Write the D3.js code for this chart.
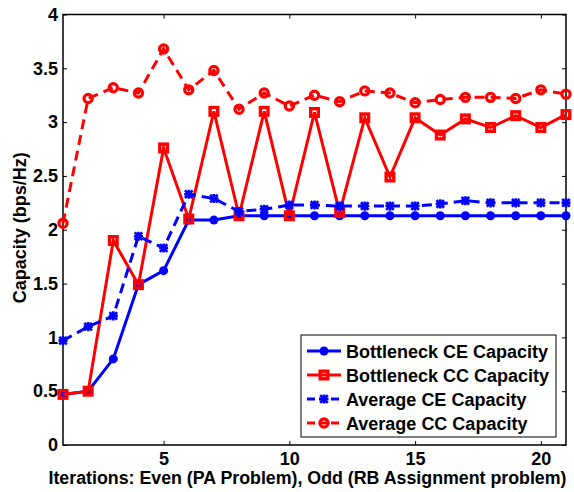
<!DOCTYPE html>
<html>
<head>
<meta charset="utf-8">
<script src="https://cdn.jsdelivr.net/npm/d3@7"></script>
<style>
  html, body { margin: 0; padding: 0; background: #fff; }
  svg { display: block; }
  text { font-family: "Liberation Sans", Arial, sans-serif; font-weight: bold; fill: #000; }
</style>
</head>
<body>
<svg id="chart" width="574" height="492"></svg>
<script>
// Iteration index (1..21)
const iterations = d3.range(1, 22);

// Capacity per iteration (bps/Hz)
const bottleneckCE = [0.47, 0.50, 0.80, 1.49, 1.62, 2.09, 2.09, 2.13, 2.13, 2.13, 2.13,
                      2.13, 2.13, 2.13, 2.13, 2.13, 2.13, 2.13, 2.13, 2.13, 2.13];
const bottleneckCC = [0.47, 0.50, 1.90, 1.49, 2.76, 2.10, 3.10, 2.13, 3.10, 2.13, 3.09,
                      2.16, 3.04, 2.49, 3.04, 2.88, 3.03, 2.95, 3.06, 2.95, 3.07];
const averageCE    = [0.97, 1.10, 1.20, 1.94, 1.83, 2.33, 2.29, 2.17, 2.19, 2.23, 2.23,
                      2.22, 2.22, 2.22, 2.22, 2.24, 2.27, 2.25, 2.25, 2.25, 2.25];
const averageCC    = [2.06, 3.22, 3.32, 3.27, 3.68, 3.30, 3.48, 3.12, 3.27, 3.15, 3.25,
                      3.19, 3.29, 3.27, 3.18, 3.21, 3.23, 3.23, 3.22, 3.30, 3.26];

const xTicks = [5, 10, 15, 20];
const yTicks = [0, 0.5, 1, 1.5, 2, 2.5, 3, 3.5, 4];

const seriesNames = ["Bottleneck CE Capacity", "Bottleneck CC Capacity",
                     "Average CE Capacity", "Average CC Capacity"];

const series = [
  { name: seriesNames[0], values: bottleneckCE, color: "#0000ff", dash: null,    marker: "dot" },
  { name: seriesNames[1], values: bottleneckCC, color: "#ff0000", dash: null,    marker: "square" },
  { name: seriesNames[2], values: averageCE,    color: "#0000ff", dash: "10,6",  marker: "star" },
  { name: seriesNames[3], values: averageCC,    color: "#ff0000", dash: "10,6",  marker: "circle" }
];

const FONT = 18;
const svg = d3.select("#chart");
const margin = { left: 63, right: 8, top: 14.5, bottom: 47 };
const W = 574, H = 492;
const x = d3.scaleLinear().domain([1, 21]).range([margin.left, W - margin.right]);
const y = d3.scaleLinear().domain([0, 4]).range([H - margin.bottom, margin.top]);

const x0 = x.range()[0], x1 = x.range()[1];
const y0 = y.range()[0], y1 = y.range()[1];

// Axes box with inward ticks on all four sides
const tickLen = 4;
const gx = svg.append("g").attr("transform", `translate(0,${y0})`)
  .call(d3.axisBottom(x).tickValues(xTicks).tickSizeInner(-tickLen).tickSizeOuter(0).tickPadding(7).tickFormat(d3.format("d")));
const gxt = svg.append("g").attr("transform", `translate(0,${y1})`)
  .call(d3.axisTop(x).tickValues(xTicks).tickSizeInner(-tickLen).tickSizeOuter(0).tickFormat(""));
const gy = svg.append("g").attr("transform", `translate(${x0},0)`)
  .call(d3.axisLeft(y).tickValues(yTicks).tickSizeInner(-tickLen).tickSizeOuter(0).tickPadding(5).tickFormat(d3.format("")));
const gyr = svg.append("g").attr("transform", `translate(${x1},0)`)
  .call(d3.axisRight(y).tickValues(yTicks).tickSizeInner(-tickLen).tickSizeOuter(0).tickFormat(""));

[gx, gxt, gy, gyr].forEach(g => {
  g.select(".domain").remove();
  g.attr("font-family", null).attr("font-size", null);
  g.selectAll(".tick line").attr("stroke", "#000").attr("stroke-width", 1);
  g.selectAll("text").attr("font-size", FONT);
});

svg.append("rect")
  .attr("x", x0).attr("y", y1)
  .attr("width", x1 - x0).attr("height", y0 - y1)
  .attr("fill", "none").attr("stroke", "#000").attr("stroke-width", 1.5);

// Axis titles
svg.append("text")
  .attr("x", 307.5).attr("y", 483.5)
  .attr("text-anchor", "middle").attr("font-size", FONT)
  .attr("textLength", 518).attr("lengthAdjust", "spacingAndGlyphs")
  .text("Iterations: Even (PA Problem), Odd (RB Assignment problem)");

svg.append("text")
  .attr("transform", `translate(25.5,${(y0 + y1) / 2 - 2}) rotate(-90)`)
  .attr("text-anchor", "middle").attr("font-size", FONT)
  .text("Capacity (bps/Hz)");

// Marker drawing helper
function drawMarker(g, marker, color, cx, cy) {
  if (marker === "dot") {
    g.append("circle").attr("cx", cx).attr("cy", cy).attr("r", 4.5).attr("fill", color);
  } else if (marker === "square") {
    g.append("rect").attr("x", cx - 3.8).attr("y", cy - 3.8).attr("width", 7.6).attr("height", 7.6)
      .attr("fill", "none").attr("stroke", color).attr("stroke-width", 3.4);
  } else if (marker === "circle") {
    g.append("circle").attr("cx", cx).attr("cy", cy).attr("r", 4.1)
      .attr("fill", "none").attr("stroke", color).attr("stroke-width", 3.2);
  } else if (marker === "star") {
    const s = 3.8;
    const p = `M${cx - s},${cy - s}L${cx + s},${cy + s}M${cx - s},${cy + s}L${cx + s},${cy - s}` +
              `M${cx - s * 1.2},${cy}L${cx + s * 1.2},${cy}M${cx},${cy - s * 1.2}L${cx},${cy + s * 1.2}`;
    g.append("path").attr("d", p).attr("stroke", color).attr("stroke-width", 2.6).attr("fill", "none");
  }
}

const line = d3.line().x((d, i) => x(iterations[i])).y(d => y(d));
const plot = svg.append("g");

series.forEach(s => {
  const g = plot.append("g");
  g.append("path")
    .attr("d", line(s.values))
    .attr("fill", "none").attr("stroke", s.color).attr("stroke-width", 3)
    .attr("stroke-dasharray", s.dash).attr("stroke-linejoin", "miter");
  s.values.forEach((v, i) => drawMarker(g, s.marker, s.color, x(iterations[i]), y(v)));
});

// Legend
const lg = svg.append("g");
const lx = 301, ly = 335, lw = 255, lh = 102;
lg.append("rect").attr("x", lx).attr("y", ly).attr("width", lw).attr("height", lh)
  .attr("fill", "#fff").attr("stroke", "#000").attr("stroke-width", 1);
series.forEach((s, i) => {
  const cy = ly + 16 + i * 24;
  lg.append("line").attr("x1", lx + 6).attr("x2", lx + 40).attr("y1", cy).attr("y2", cy)
    .attr("stroke", s.color).attr("stroke-width", 3)
    .attr("stroke-dasharray", s.dash ? "8,4" : null);
  drawMarker(lg, s.marker, s.color, lx + 23, cy);
  lg.append("text").attr("x", lx + 45).attr("y", cy + 6.5).attr("font-size", FONT).text(s.name);
});
</script>
</body>
</html>
